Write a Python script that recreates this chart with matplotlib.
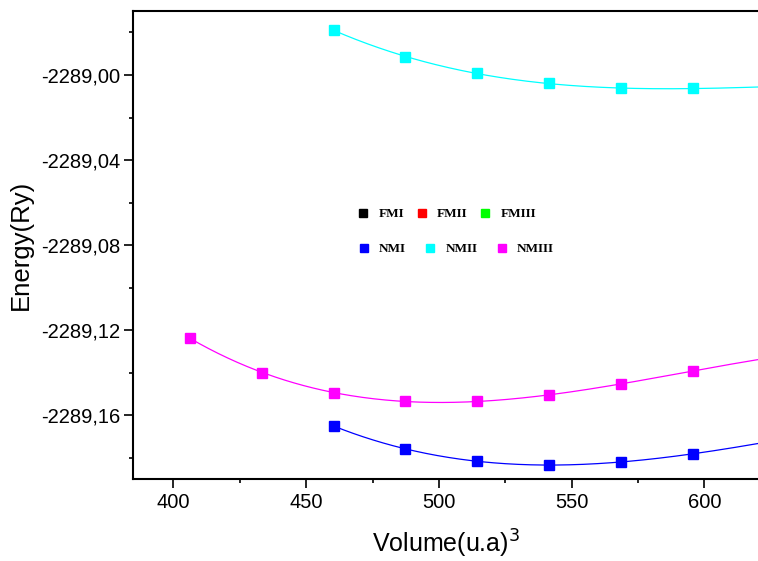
import numpy as np
import matplotlib
matplotlib.use("Agg")
import matplotlib.pyplot as plt
from matplotlib.ticker import MultipleLocator, FuncFormatter

# volumes (u.a)^3 and total energies (Ry)
vol_nmi = [460.3, 487.4, 514.4, 541.5, 568.6, 595.6]
e_nmi = [-2289.1649, -2289.1758, -2289.1814, -2289.1833, -2289.1819, -2289.1780]

vol_nmii = [460.3, 487.4, 514.4, 541.5, 568.6, 595.6]
e_nmii = [-2288.9789, -2288.9914, -2288.9992, -2289.0039, -2289.0063, -2289.0063]

vol_nmiii = [406.1, 433.2, 460.3, 487.4, 514.4, 541.5, 568.6, 595.6]
e_nmiii = [-2289.1235, -2289.1399, -2289.1493, -2289.1532, -2289.1532, -2289.1505, -2289.1453, -2289.1390]

xmin, xmax = 384.9, 620.2
ymin, ymax = -2289.19, -2288.9699

plt.rcParams['font.family'] = ['Liberation Sans', 'DejaVu Sans']

fig = plt.figure(figsize=(7.58, 5.61), dpi=100)
ax = fig.add_axes([0.1759, 0.1456, 0.8241, 0.8348])


def draw_fit(vol, en, color, label):
    # cubic fit through the points, carried on to the right edge
    c = np.polyfit(vol, en, 3)
    xs = np.linspace(vol[0], xmax, 300)
    ax.plot(xs, np.polyval(c, xs), '-', color=color, lw=0.9, zorder=2)
    ax.plot(vol, en, 's', color=color, ms=7, mec=color, zorder=3, label=label)


draw_fit(vol_nmiii, e_nmiii, '#ff00ff', 'NMIII')
draw_fit(vol_nmi, e_nmi, '#0000ff', 'NMI')
draw_fit(vol_nmii, e_nmii, '#00ffff', 'NMII')

ax.set_xlim(xmin, xmax)
ax.set_ylim(ymin, ymax)

ax.xaxis.set_major_locator(MultipleLocator(50))
ax.xaxis.set_minor_locator(MultipleLocator(25))
ax.yaxis.set_major_locator(MultipleLocator(0.04))
ax.yaxis.set_minor_locator(MultipleLocator(0.02))
ax.yaxis.set_major_formatter(FuncFormatter(lambda v, p: f"{v:.2f}".replace('.', ',')))

ax.tick_params(which='major', direction='out', length=6.5, width=1.2, labelsize=14.5, pad=3)
ax.tick_params(which='minor', direction='out', length=3.2, width=1.2)
ax.tick_params(top=False, right=False)
for s in ['left', 'bottom', 'top']:
    ax.spines[s].set_linewidth(1.5)
ax.spines['right'].set_visible(False)

ax.set_xlabel("Volume(u.a)$^3$", fontsize=18, labelpad=12)
ax.set_ylabel("Energy(Ry)", fontsize=18.5, labelpad=6)

leg_font = {'family': 'Liberation Serif', 'weight': 'bold', 'size': 9.5}
fm_handles = [ax.plot([], [], 's', color=c, ms=7, label=n)[0]
              for c, n in [('black', 'FMI'), ('#ff0000', 'FMII'), ('#00ff00', 'FMIII')]]
nm_handles = [ax.lines[i] for i in (3, 5, 1)]

kw = dict(ncol=3, frameon=False, prop=leg_font, borderpad=0, borderaxespad=0,
          handlelength=1.0, markerscale=0.85, loc='center left')
leg1 = ax.legend(handles=fm_handles, bbox_to_anchor=(0.3576, 0.5665),
                 handletextpad=0.64, columnspacing=0.85, **kw)
ax.add_artist(leg1)
ax.legend(handles=nm_handles, bbox_to_anchor=(0.3587, 0.4911),
          handletextpad=0.64, columnspacing=1.35, **kw)

fig.savefig("out.png", dpi=100)
